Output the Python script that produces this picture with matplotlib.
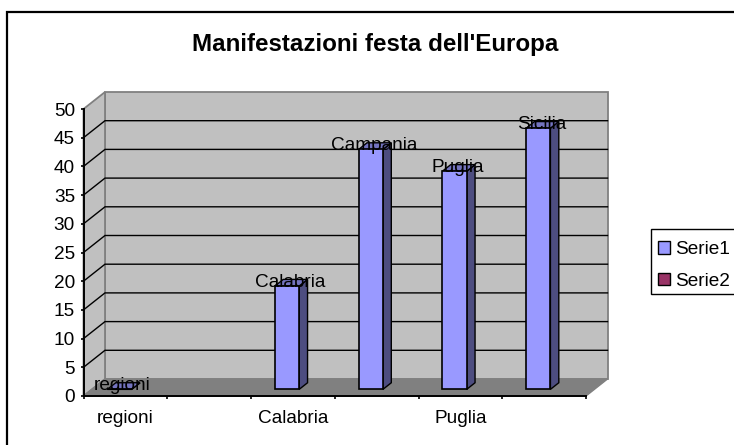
import numpy as np
import matplotlib
matplotlib.use("Agg")
import matplotlib.pyplot as plt
from matplotlib.patches import Polygon, Rectangle, Patch

categories = ["regioni", "", "Calabria", "Campania", "Puglia", "Sicilia"]
serie1 = [0, np.nan, 18, 41.8, 38, 45.5]
serie_names = ["Serie1", "Serie2"]
serie_colors = ["#9999FF", "#993366"]
y_ticks = [0, 5, 10, 15, 20, 25, 30, 35, 40, 45, 50]
title = "Manifestazioni festa dell'Europa"

W, H = 734, 445
plt.rcParams["font.family"] = ["Liberation Sans", "DejaVu Sans"]
fig = plt.figure(figsize=(W / 100, H / 100), dpi=100)
L, R, T, B = 83.5, 586.0, 109.0, 396.0
ax = fig.add_axes([L / W, 1 - B / H, (R - L) / W, (B - T) / H])
ax.set_xlim(0, len(categories))
ax.set_ylim(0, 50)
ax.patch.set_visible(False)

px_x = (R - L) / len(categories)
px_y = (B - T) / 50
DX, DY = 21.5 / px_x, 17.0 / px_y


def proj(x, y, d):
    return (x + DX * d, y + DY * d)


xmax = len(categories)
wall = "#C0C0C0"
edge = "#808080"


def poly(pts, fc, ec=edge, lw=1.0, z=1):
    ax.add_patch(Polygon(pts, closed=True, facecolor=fc, edgecolor=ec, linewidth=lw,
                         zorder=z, clip_on=False, joinstyle="miter"))


# walls and floor
poly([proj(0, 0, 1), proj(xmax, 0, 1), proj(xmax, 50, 1), proj(0, 50, 1)], wall, lw=1.3)
poly([proj(0, 0, 0), proj(0, 0, 1), proj(0, 50, 1), proj(0, 50, 0)], wall, lw=1.3)
poly([proj(0, 0, 0), proj(xmax, 0, 0), proj(xmax, 0, 1), proj(0, 0, 1)], edge, lw=1.0)

# gridlines
for v in y_ticks[1:-1]:
    p0, p1, p2 = proj(0, v, 0), proj(0, v, 1), proj(xmax, v, 1)
    ax.plot([p0[0], p1[0], p2[0]], [p0[1], p1[1], p2[1]], color="black", lw=1.0,
            zorder=2, clip_on=False, solid_joinstyle="miter")

# bars
D0, D1 = 0.39, 0.78
for i, v in enumerate(serie1):
    if np.isnan(v):
        continue
    x0, x1 = i + 0.185, i + 0.475
    poly([proj(x1, 0, D0), proj(x1, 0, D1), proj(x1, v, D1), proj(x1, v, D0)],
         "#4D4D80", "black", 1.0, 3)
    poly([proj(x0, v, D0), proj(x1, v, D0), proj(x1, v, D1), proj(x0, v, D1)],
         "#7373BF", "black", 1.0, 3)
    poly([proj(x0, 0, D0), proj(x1, 0, D0), proj(x1, v, D0), proj(x0, v, D0)],
         "#9999FF", "black", 1.2, 3)
    cx, cy = proj((x0 + x1) / 2, v, D0)
    ax.annotate(categories[i], (cx, cy), xytext=(2.2, 2.6), textcoords="offset points",
                ha="center", va="center", fontsize=13.7, color="black", zorder=5,
                annotation_clip=False)

# axes
for s in ("top", "right"):
    ax.spines[s].set_visible(False)
for s in ("left", "bottom"):
    ax.spines[s].set_linewidth(1.4)
    ax.spines[s].set_zorder(6)
ax.set_yticks(y_ticks)
ax.set_xticks(np.arange(xmax + 1))
ax.set_xticklabels([])
ax.set_xticks(np.arange(xmax) + 0.5, minor=True)
ax.set_xticklabels([c if i % 2 == 0 else "" for i, c in enumerate(categories)], minor=True)
ax.tick_params(axis="y", length=2.5, width=1.2, labelsize=13.7, pad=3.6)
ax.tick_params(axis="x", which="major", length=2.5, width=1.2)
ax.tick_params(axis="x", which="minor", length=0, labelsize=13.7, pad=10)

fig.text(375 / W, 1 - 44 / H, title, ha="center", va="center", fontsize=17.4, fontweight="bold")

# outer frame, running off the right and bottom edges
fig.add_artist(Rectangle((7.3 / W, -0.1), 1.2, 1.1 - 11.7 / H, transform=fig.transFigure,
                         fill=False, edgecolor="black", linewidth=1.6, zorder=-2))

# legend box, running off the right edge
fig.add_artist(Rectangle((651 / W, 1 - 294 / H), 100 / W, 65 / H, transform=fig.transFigure,
                         facecolor="white", edgecolor="black", linewidth=1.0, zorder=-1))
handles = [Patch(facecolor=c, edgecolor="black", linewidth=1.0) for c in serie_colors]
leg = ax.legend(handles, serie_names, loc="upper left",
                bbox_to_anchor=(650 / W, 1 - 233 / H), bbox_transform=fig.transFigure,
                fontsize=13.7, frameon=False,
                borderaxespad=0, borderpad=0.42, labelspacing=0.78, handlelength=0.63,
                handleheight=0.63, handletextpad=0.28)
leg.set_zorder(10)
fig.savefig("out.png", dpi=100)
